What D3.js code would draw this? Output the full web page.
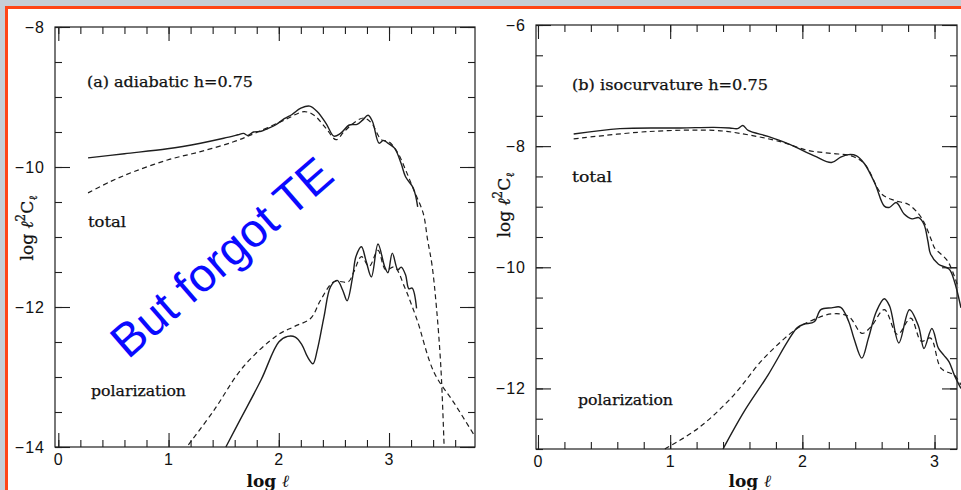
<!DOCTYPE html>
<html>
<head>
<meta charset="utf-8">
<script src="https://cdn.jsdelivr.net/npm/d3@7"></script>
<style>
  html, body { margin: 0; padding: 0; background: #c6ced6; }
  svg { display: block; }
</style>
</head>
<body>
<svg id="chart" width="961" height="490"></svg>
<script>
// ---------------- DATA ----------------
const xTickLabels = [0, 1, 2, 3];
const leftYTickLabels = [-14, -12, -10, -8];
const rightYTickLabels = [-12, -10, -8, -6];

// (a) adiabatic, total: full (solid) and approximation (dashed)
const adiabaticTotal = [[0.27,-9.87],[0.6,-9.81],[0.99,-9.74],[1.29,-9.66],[1.5,-9.59],[1.63,-9.54],[1.68,-9.52],[1.72,-9.55],[1.77,-9.50],[1.84,-9.49],[1.90,-9.45],[1.97,-9.40],[2.05,-9.31],[2.12,-9.25],[2.20,-9.16],[2.28,-9.13],[2.35,-9.21],[2.43,-9.38],[2.50,-9.56],[2.56,-9.52],[2.64,-9.40],[2.71,-9.39],[2.76,-9.33],[2.81,-9.26],[2.85,-9.35],[2.91,-9.66],[2.95,-9.62],[2.99,-9.66],[3.05,-9.73],[3.11,-9.95],[3.15,-10.14],[3.22,-10.30],[3.26,-10.57]];
const adiabaticTotalDashed = [[0.27,-10.37],[0.47,-10.21],[0.68,-10.07],[0.99,-9.90],[1.29,-9.78],[1.59,-9.64],[1.78,-9.52],[2.05,-9.33],[2.23,-9.21],[2.32,-9.26],[2.43,-9.45],[2.52,-9.61],[2.59,-9.50],[2.68,-9.37],[2.77,-9.30],[2.84,-9.37],[2.93,-9.61],[3.00,-9.64],[3.08,-9.80],[3.15,-10.04],[3.23,-10.35],[3.31,-10.66],[3.35,-11.04],[3.39,-11.40],[3.43,-12.0],[3.47,-12.85],[3.50,-14.0]];
// (a) adiabatic, polarization
const adiabaticPol = [[1.52,-14.0],[1.65,-13.61],[1.84,-13.04],[2.00,-12.50],[2.08,-12.42],[2.15,-12.43],[2.21,-12.54],[2.26,-12.71],[2.31,-12.81],[2.35,-12.61],[2.41,-12.14],[2.47,-11.71],[2.53,-11.62],[2.58,-11.76],[2.62,-11.91],[2.67,-11.57],[2.70,-11.28],[2.75,-11.14],[2.79,-11.33],[2.84,-11.57],[2.90,-11.10],[2.96,-11.42],[2.99,-11.51],[3.03,-11.23],[3.08,-11.47],[3.11,-11.43],[3.15,-11.54],[3.18,-11.74],[3.21,-11.73],[3.25,-12.02]];
const adiabaticPolDashed = [[1.18,-13.97],[1.41,-13.48],[1.68,-12.85],[1.99,-12.40],[2.14,-12.28],[2.29,-12.16],[2.38,-11.90],[2.50,-11.64],[2.63,-11.64],[2.68,-11.50],[2.75,-11.28],[2.82,-11.42],[2.90,-11.19],[2.97,-11.47],[3.05,-11.43],[3.14,-11.71],[3.20,-11.95],[3.26,-12.21],[3.41,-12.94],[3.59,-13.37],[3.78,-13.85]];

// (b) isocurvature, total
const isoTotal = [[0.27,-7.80],[0.62,-7.71],[1.08,-7.70],[1.33,-7.69],[1.45,-7.70],[1.51,-7.71],[1.55,-7.66],[1.59,-7.74],[1.74,-7.84],[1.89,-7.96],[2.09,-8.16],[2.22,-8.27],[2.29,-8.18],[2.35,-8.14],[2.41,-8.16],[2.47,-8.29],[2.55,-8.62],[2.62,-8.99],[2.66,-9.01],[2.71,-8.93],[2.77,-9.12],[2.83,-9.20],[2.88,-9.18],[2.92,-9.29],[2.95,-9.57],[2.97,-9.78],[3.03,-9.95],[3.11,-10.03],[3.15,-10.23],[3.20,-10.67]];
const isoTotalDashed = [[0.27,-7.88],[0.83,-7.76],[1.33,-7.74],[1.53,-7.79],[1.84,-7.93],[2.04,-8.07],[2.22,-8.12],[2.37,-8.16],[2.47,-8.29],[2.60,-8.79],[2.70,-8.90],[2.80,-8.96],[2.90,-9.18],[2.98,-9.57],[3.00,-9.68],[3.10,-9.90],[3.18,-10.34]];
// (b) isocurvature, polarization
const isoPol = [[1.40,-13.0],[1.56,-12.38],[1.74,-11.78],[1.89,-11.22],[1.96,-11.00],[2.01,-10.94],[2.09,-10.90],[2.14,-10.70],[2.22,-10.67],[2.29,-10.66],[2.35,-10.89],[2.39,-11.17],[2.45,-11.50],[2.50,-11.17],[2.56,-10.73],[2.62,-10.52],[2.66,-10.64],[2.73,-11.25],[2.81,-10.70],[2.88,-10.98],[2.92,-11.34],[2.98,-11.01],[3.03,-11.34],[3.07,-11.45],[3.11,-11.56],[3.15,-11.78],[3.20,-12.00]];
const isoPolDashed = [[0.96,-13.0],[1.21,-12.66],[1.46,-12.16],[1.71,-11.50],[1.96,-11.01],[2.09,-10.86],[2.22,-10.77],[2.35,-10.81],[2.45,-11.09],[2.52,-10.98],[2.62,-10.70],[2.72,-11.11],[2.82,-10.84],[2.90,-11.22],[2.97,-11.17],[3.05,-11.67],[3.15,-11.78],[3.20,-11.94]];

// ---------------- DRAW ----------------
const svg = d3.select("#chart");
const INK = "#1e1e1e";

// page background + orange frame
svg.append("rect").attr("x",0).attr("y",0).attr("width",961).attr("height",490).attr("fill","#c6ced6");
svg.append("rect").attr("x",5).attr("y",6).attr("width",956).attr("height",484).attr("fill","#ff4516");
svg.append("rect").attr("x",8).attr("y",9).attr("width",953).attr("height",481).attr("fill","#ffffff");

function panel(cfg) {
  const x = d3.scaleLinear().domain(cfg.xDomain).range([cfg.left, cfg.right]);
  const y = d3.scaleLinear().domain(cfg.yDomain).range([cfg.bottom, cfg.top]);
  const g = svg.append("g");

  // frame
  g.append("rect").attr("x",cfg.left).attr("y",cfg.top)
    .attr("width",cfg.right-cfg.left).attr("height",cfg.bottom-cfg.top)
    .attr("fill","none").attr("stroke",INK).attr("stroke-width",1.2);

  const xMinor = d3.range(0, cfg.xDomain[1]+1e-9, 0.2).filter(v => v >= cfg.xDomain[0]);
  const yMinor = d3.range(cfg.yDomain[0], cfg.yDomain[1]+1e-9, 0.5);

  function styleAxis(sel) {
    sel.select(".domain").remove();
    sel.selectAll(".tick line").attr("stroke",INK).attr("stroke-width",1.1);
    sel.selectAll(".tick text").attr("fill","#111").attr("font-family","'Liberation Sans', Arial, sans-serif").attr("font-size",16);
  }
  // minor ticks (all four sides)
  g.append("g").attr("transform",`translate(0,${cfg.bottom})`)
    .call(d3.axisBottom(x).tickValues(xMinor).tickSize(-7).tickFormat("")).call(styleAxis);
  g.append("g").attr("transform",`translate(0,${cfg.top})`)
    .call(d3.axisTop(x).tickValues(xMinor).tickSize(-7).tickFormat("")).call(styleAxis);
  g.append("g").attr("transform",`translate(${cfg.left},0)`)
    .call(d3.axisLeft(y).tickValues(yMinor).tickSize(-7).tickFormat("")).call(styleAxis);
  g.append("g").attr("transform",`translate(${cfg.right},0)`)
    .call(d3.axisRight(y).tickValues(yMinor).tickSize(-7).tickFormat("")).call(styleAxis);
  // major ticks
  const xMaj = cfg.xTicks.filter(v => v >= cfg.xDomain[0] && v <= cfg.xDomain[1]);
  g.append("g").attr("transform",`translate(0,${cfg.bottom})`)
    .call(d3.axisBottom(x).tickValues(xMaj).tickSizeInner(-14).tickSizeOuter(0).tickPadding(7).tickFormat(d3.format("d"))).call(styleAxis);
  g.append("g").attr("transform",`translate(0,${cfg.top})`)
    .call(d3.axisTop(x).tickValues(xMaj).tickSizeInner(-14).tickSizeOuter(0).tickFormat("")).call(styleAxis);
  g.append("g").attr("transform",`translate(${cfg.left},0)`)
    .call(d3.axisLeft(y).tickValues(cfg.yTicks).tickSizeInner(-15).tickSizeOuter(0).tickPadding(10).tickFormat(d3.format("d"))).call(styleAxis);
  g.append("g").attr("transform",`translate(${cfg.right},0)`)
    .call(d3.axisRight(y).tickValues(cfg.yTicks).tickSizeInner(-15).tickSizeOuter(0).tickFormat("")).call(styleAxis);
  // widen the minus sign gap like the original typesetting
  g.selectAll(".tick text").attr("letter-spacing", 1);

  // curves
  const line = d3.line().x(d => x(d[0])).y(d => y(d[1])).curve(d3.curveCatmullRom.alpha(0.5));
  cfg.series.forEach(s => {
    g.append("path").datum(s.data).attr("d", line).attr("fill","none")
      .attr("stroke", INK).attr("stroke-width", s.dashed ? 1.2 : 1.4)
      .attr("stroke-dasharray", s.dashed ? "5,3.5" : null)
      .attr("stroke-linejoin","round");
  });

  // text labels
  const serif = "'DejaVu Serif', 'Liberation Serif', serif";
  cfg.labels.forEach(l => {
    g.append("text").attr("x", l.x).attr("y", l.y).text(l.text)
      .attr("font-family", serif).attr("font-size", 14.5).attr("fill","#111")
      .attr("stroke","#111").attr("stroke-width",0.25)
      .attr("textLength", l.w).attr("lengthAdjust","spacingAndGlyphs");
  });

  // y-axis title
  const yt = g.append("text").attr("transform", `translate(${cfg.yTitle[0]},${cfg.yTitle[1]}) rotate(-90)`)
    .attr("text-anchor","middle").attr("font-family", serif).attr("font-size", 17).attr("fill","#111")
    .attr("stroke","#111").attr("stroke-width",0.3);
  yt.append("tspan").text("log ");
  yt.append("tspan").text("ℓ").attr("font-style","italic");
  yt.append("tspan").text("2").attr("font-size",12).attr("dy",-8);
  yt.append("tspan").text("C").attr("dy",8);
  yt.append("tspan").text("ℓ").attr("font-size",11).attr("dy",4);

  // x-axis title
  const xt = g.append("text").attr("x", cfg.xTitle[0]).attr("y", cfg.xTitle[1])
    .attr("text-anchor","middle").attr("font-family", serif).attr("font-size", 17).attr("font-weight","bold").attr("fill","#111");
  xt.append("tspan").text("log ");
  xt.append("tspan").text("ℓ").attr("font-style","italic");
}

panel({
  left: 55, right: 475, top: 27, bottom: 447,
  xDomain: [-0.03, 3.78], yDomain: [-14, -8],
  xTicks: xTickLabels, yTicks: leftYTickLabels,
  series: [
    {data: adiabaticTotal, dashed: false},
    {data: adiabaticTotalDashed, dashed: true},
    {data: adiabaticPol, dashed: false},
    {data: adiabaticPolDashed, dashed: true}
  ],
  labels: [
    {text: "(a) adiabatic h=0.75", x: 87, y: 87, w: 166},
    {text: "total", x: 88, y: 227, w: 38},
    {text: "polarization", x: 91, y: 396, w: 95}
  ],
  yTitle: [33, 228], xTitle: [268, 487]
});

panel({
  left: 536, right: 957, top: 25, bottom: 449,
  xDomain: [-0.015, 3.17], yDomain: [-13, -6],
  xTicks: xTickLabels, yTicks: rightYTickLabels,
  series: [
    {data: isoTotal, dashed: false},
    {data: isoTotalDashed, dashed: true},
    {data: isoPol, dashed: false},
    {data: isoPolDashed, dashed: true}
  ],
  labels: [
    {text: "(b) isocurvature h=0.75", x: 572, y: 90, w: 196},
    {text: "total", x: 572, y: 182, w: 40},
    {text: "polarization", x: 578, y: 405, w: 95}
  ],
  yTitle: [510, 205], xTitle: [750, 487]
});

// overlaid annotation
svg.append("text").attr("transform","translate(128,360) rotate(-41)")
  .attr("font-family","'Liberation Sans', Arial, sans-serif").attr("font-size",47)
  .attr("fill","#0a0aff").text("But forgot TE");
</script>
</body>
</html>
